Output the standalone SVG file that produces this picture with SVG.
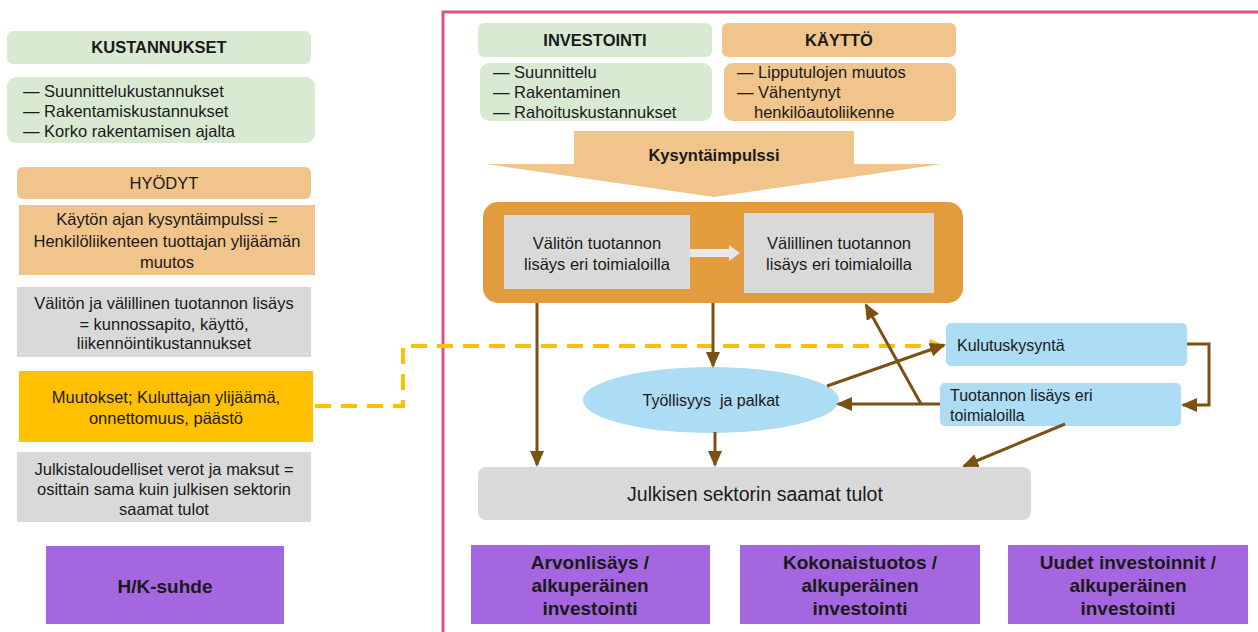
<svg xmlns="http://www.w3.org/2000/svg" width="1258" height="632" viewBox="0 0 1258 632">
<style>
text{font-family:"Liberation Sans",Arial,sans-serif;fill:#1a1a1a;font-size:16.5px}
.c{text-anchor:middle}
.b{font-weight:bold}
.green{fill:#D9EAD3}
.lor{fill:#F0C48B}
.gray{fill:#D9D9D9}
.blue{fill:#ADDCF5}
.purple{fill:#A567E0}
.brown{stroke:#7B5115;stroke-width:3;fill:none}
.pt{font-size:19px;font-weight:bold}
.s{font-size:16px}
</style>
<defs>
<marker id="ah" markerUnits="userSpaceOnUse" markerWidth="16" markerHeight="16" viewBox="0 0 16 16" refX="14" refY="8" orient="auto">
<path d="M0,1 L16,8 L0,15 Z" fill="#7B5115"/>
</marker>
<marker id="ay" markerUnits="userSpaceOnUse" markerWidth="16" markerHeight="16" viewBox="0 0 16 16" refX="14" refY="8" orient="auto">
<path d="M0,1 L16,8 L0,15 Z" fill="#FFC000"/>
</marker>
</defs>
<rect width="1258" height="632" fill="#fff"/>
<path d="M443,632 V12 H1262" fill="none" stroke="#D9528B" stroke-width="3"/>

<g id="kustannukset"><rect x="7" y="31" width="304" height="33" rx="6" class="green"/><text x="159" y="53" class="c b">KUSTANNUKSET</text></g>
<g id="kustannukset-list"><rect x="7" y="77" width="308" height="66" rx="9" class="green"/>
<text x="23" y="97">— Suunnittelukustannukset</text><text x="23" y="117">— Rakentamiskustannukset</text><text x="23" y="137">— Korko rakentamisen ajalta</text></g>
<g id="hyodyt"><rect x="17" y="167" width="294" height="32" rx="6" class="lor"/><text x="164" y="189" class="c">HYÖDYT</text></g>
<g id="kaytonajan"><rect x="19" y="205" width="296" height="70" class="lor"/>
<text x="167" y="225" class="c">Käytön ajan kysyntäimpulssi =</text><text x="167" y="247" class="c">Henkilöliikenteen tuottajan ylijäämän</text><text x="167" y="268" class="c">muutos</text></g>
<g id="valiton-valillinen"><rect x="17" y="287" width="294" height="70" class="gray"/>
<text x="164" y="309" class="c">Välitön ja välillinen tuotannon lisäys</text><text x="164" y="330" class="c">= kunnossapito, käyttö,</text><text x="164" y="349" class="c">liikennöintikustannukset</text></g>
<g id="muutokset"><rect x="19" y="371" width="294" height="71" fill="#FFC000"/>
<text x="166" y="403" class="c">Muutokset; Kuluttajan ylijäämä,</text><text x="166" y="424" class="c">onnettomuus, päästö</text></g>
<g id="julkistaloudelliset"><rect x="17" y="452" width="294" height="70" class="gray"/>
<text x="164" y="475" class="c">Julkistaloudelliset verot ja maksut =</text><text x="164" y="495" class="c">osittain sama kuin julkisen sektorin</text><text x="164" y="515" class="c">saamat tulot</text></g>
<g id="hk-suhde"><rect x="46" y="546" width="238" height="78" class="purple"/><text x="165" y="593" class="c pt">H/K-suhde</text></g>

<g id="investointi"><rect x="478" y="23" width="234" height="34" rx="6" class="green"/><text x="595" y="46" class="c b">INVESTOINTI</text></g>
<g id="investointi-list"><rect x="480" y="63" width="232" height="58" rx="9" class="green"/>
<text x="493" y="78">— Suunnittelu</text><text x="493" y="98">— Rakentaminen</text><text x="493" y="118">— Rahoituskustannukset</text></g>
<g id="kaytto"><rect x="722" y="23" width="234" height="34" rx="6" class="lor"/><text x="839" y="46" class="c b">KÄYTTÖ</text></g>
<g id="kaytto-list"><rect x="724" y="63" width="232" height="58" rx="9" class="lor"/>
<text x="737" y="78">— Lipputulojen muutos</text><text x="737" y="98">— Vähentynyt</text><text x="754" y="118">henkilöautoliikenne</text></g>
<g id="kysyntaimpulssi"><path d="M574,131 H854 V164 H942 L714,197 L486,164 H574 Z" class="lor"/><text x="714" y="161" class="c b">Kysyntäimpulssi</text></g>
<g id="tuotanto"><rect x="483" y="202" width="480" height="101" rx="15" fill="#E29C3E"/>
<rect x="504" y="215" width="186" height="74" class="gray"/>
<text x="597" y="249" class="c">Välitön tuotannon</text><text x="597" y="270" class="c">lisäys eri toimialoilla</text>
<rect x="744" y="213" width="190" height="80" class="gray"/>
<text x="839" y="249" class="c">Välillinen tuotannon</text><text x="839" y="270" class="c">lisäys eri toimialoilla</text>
<path d="M690,249 H729 V245 L740,253 L729,261 V257 H690 Z" fill="#E8E8E8"/></g>
<g id="tyollisyys"><ellipse cx="711" cy="400" rx="128" ry="33" class="blue"/><text x="711" y="406" class="c s" style="white-space:pre">Työllisyys  ja palkat</text></g>
<g id="kulutuskysynta"><rect x="946" y="323" width="241" height="43" rx="5" class="blue"/><text x="957" y="351" class="s">Kulutuskysyntä</text></g>
<g id="tuotannon-lisays"><rect x="940" y="383" width="241" height="43" rx="5" class="blue"/><text x="950" y="401" class="s">Tuotannon lisäys eri</text><text x="950" y="421" class="s">toimialoilla</text></g>
<g id="julkisen"><rect x="478" y="467" width="553" height="53" rx="8" class="gray"/><text x="755" y="501" class="c" style="font-size:19.5px">Julkisen sektorin saamat tulot</text></g>
<g id="arvonlisays"><rect x="471" y="545" width="239" height="79" class="purple"/><text x="590" y="569" class="c pt">Arvonlisäys /</text><text x="590" y="592" class="c pt">alkuperäinen</text><text x="590" y="615" class="c pt">investointi</text></g>
<g id="kokonaistuotos"><rect x="740" y="545" width="240" height="79" class="purple"/><text x="860" y="569" class="c pt">Kokonaistuotos /</text><text x="860" y="592" class="c pt">alkuperäinen</text><text x="860" y="615" class="c pt">investointi</text></g>
<g id="uudet"><rect x="1008" y="545" width="240" height="79" class="purple"/><text x="1128" y="569" class="c pt">Uudet investoinnit /</text><text x="1128" y="592" class="c pt">alkuperäinen</text><text x="1128" y="615" class="c pt">investointi</text></g>

<g id="connectors">
<path d="M315,406 H403 V346 H944" fill="none" stroke="#FFC000" stroke-width="4" stroke-dasharray="16,10" marker-end="url(#ay)"/>
<path d="M537,303 V465" class="brown" marker-end="url(#ah)"/>
<path d="M713,303 V366" class="brown" marker-end="url(#ah)"/>
<path d="M715,432 V465" class="brown" marker-end="url(#ah)"/>
<path d="M827,386 L944,345" class="brown" marker-end="url(#ah)"/>
<path d="M940,404 H838" class="brown" marker-end="url(#ah)"/>
<path d="M921,404 L866,305" class="brown" marker-end="url(#ah)"/>
<path d="M1187,344 H1209 V405 H1183" class="brown" marker-end="url(#ah)"/>
<path d="M1065,424 L964,466" class="brown" marker-end="url(#ah)"/>
</g>
</svg>
